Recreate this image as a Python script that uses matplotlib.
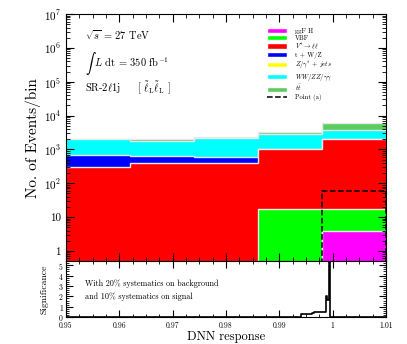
import matplotlib
matplotlib.use('Agg')
import matplotlib.pyplot as plt
import numpy as np
from matplotlib.ticker import FixedLocator, MultipleLocator, LogLocator, NullFormatter
from matplotlib.lines import Line2D
from matplotlib.patches import Patch

plt.rcParams['font.family'] = ['cmr10', 'DejaVu Serif']
plt.rcParams['mathtext.fontset'] = 'cm'
plt.rcParams['axes.formatter.use_mathtext'] = True

# Bin edges of the DNN response histogram
bin_edges = [0.95, 0.962, 0.974, 0.986, 0.998, 1.01]

# Per-process yields (stack order bottom -> top)
processes = ['ggF H', 'VBF', r'$V^{*} \to \ell\ell$', 't + W/Z',
             r'$Z/\gamma^{*}$ + $jets$', r'$WW/ZZ/\gamma\gamma$', r'$t\bar{t}$']
colors = ['#ff00ff', '#00ff00', '#ff0000', '#0000ff', '#ffff00', '#00ffff', '#5ccd5c']
ggf_h = [0, 0, 0, 0, 3.9]
vbf = [0, 0, 0, 17, 13]
vstar_ll = [295, 390, 400, 983, 1983]
t_wz = [405, 230, 180, 0, 0]
z_jets = [0, 0, 0, 0, 0]
ww_zz = [1300, 1120, 1550, 1800, 1700]
ttbar = [0, 260, 270, 400, 2200]

# Signal point (a)
point_a = [0, 0, 0, 0, 58]

# Significance curve (step, post)
sig_x = [0.95, 0.9940, 0.9962, 0.9966, 0.9976, 0.9984, 0.9987, 0.9989, 0.9993, 0.9995, 1.01]
sig_y = [0.0, 0.30, 0.40, 0.48, 0.45, 0.50, 2.05, 1.70, 5.3, 0.0, 0.0]

fig = plt.figure(figsize=(4.07, 3.44), dpi=100)
ax = fig.add_axes([0.162, 0.241, 0.786, 0.718])
rax = fig.add_axes([0.162, 0.078, 0.786, 0.163])

stack = [ggf_h, vbf, vstar_ll, t_wz, z_jets, ww_zz, ttbar]
cum = np.cumsum(np.array(stack, dtype=float), axis=0)
# draw from the top layer down so lower layers cover upper ones
for i in range(len(stack) - 1, -1, -1):
    if np.sum(stack[i]) == 0:
        continue
    ax.stairs(cum[i], bin_edges, baseline=1e-3, fill=True, color=colors[i])
    ax.stairs(cum[i], bin_edges, baseline=None, color='#e8e8e8', lw=1.0)

ax.stairs(point_a, bin_edges, baseline=1e-3, color='black', ls='--', lw=1.1)

ax.set_yscale('log')
ax.set_ylim(0.5, 1e7)
ax.set_xlim(0.95, 1.01)
ax.set_yticks([1, 10, 1e2, 1e3, 1e4, 1e5, 1e6, 1e7])
ax.set_yticklabels(['1', '10', r'$10^{2}$', r'$10^{3}$', r'$10^{4}$',
                    r'$10^{5}$', r'$10^{6}$', r'$10^{7}$'])
ax.yaxis.set_minor_locator(LogLocator(base=10, subs=np.arange(2, 10), numticks=20))
ax.yaxis.set_minor_formatter(NullFormatter())
ax.xaxis.set_major_locator(MultipleLocator(0.01))
ax.xaxis.set_minor_locator(MultipleLocator(0.0025))
ax.set_xticklabels([])
ax.tick_params(which='both', direction='in', top=True, right=True, labelsize=8)
ax.tick_params(which='major', length=6)
ax.tick_params(which='minor', length=3)
ax.set_ylabel('No. of Events/bin', fontsize=11, labelpad=2)

ax.text(0.06, 0.915, r'$\sqrt{s}$ = 27 TeV', transform=ax.transAxes, fontsize=7.5, va='center')
ax.text(0.06, 0.80, r'$\int$ $L$ dt = 350 fb$^{-1}$', transform=ax.transAxes, fontsize=7.5, va='center')
ax.text(0.06, 0.70, r'SR-2$\ell$1j     [ $\tilde{\ell}_{\rm L}\tilde{\ell}_{\rm L}$ ]',
        transform=ax.transAxes, fontsize=7.5, va='center')

handles = [Patch(facecolor=c, edgecolor='white') for c in colors]
handles.append(Line2D([0], [0], color='black', ls='--', lw=1.1))
labels = processes + ['Point (a)']
ax.legend(handles, labels, loc='upper left', bbox_to_anchor=(0.62, 0.955), fontsize=4.8,
          frameon=False, handlelength=3.0, handleheight=0.8, labelspacing=0.12,
          handletextpad=1.2, borderaxespad=0)

rax.step(sig_x, sig_y, where='post', color='black', lw=1.2)
rax.set_xlim(0.95, 1.01)
rax.set_ylim(0, 5.4)
rax.xaxis.set_major_locator(FixedLocator([0.95, 0.96, 0.97, 0.98, 0.99, 1.0, 1.01]))
rax.set_xticklabels(['0.95', '0.96', '0.97', '0.98', '0.99', '1', '1.01'])
rax.xaxis.set_minor_locator(MultipleLocator(0.0025))
rax.yaxis.set_major_locator(MultipleLocator(1))
rax.yaxis.set_minor_locator(MultipleLocator(0.2))
rax.tick_params(which='both', direction='in', top=True, right=True, labelsize=5.5)
rax.tick_params(axis='x', pad=3.5)
rax.tick_params(axis='y', pad=1.5)
rax.tick_params(which='major', length=5)
rax.tick_params(which='minor', length=2.5)
rax.set_ylabel('Significance', fontsize=7, labelpad=7)
rax.set_xlabel('DNN response', fontsize=9, labelpad=0)
rax.text(0.06, 0.60, 'With 20% systematics on background', transform=rax.transAxes,
         fontsize=5.8, va='center')
rax.text(0.06, 0.37, 'and 10% systematics on signal', transform=rax.transAxes,
         fontsize=5.8, va='center')

# lift the "0" label so it clears the "0.95" label below
fig.canvas.draw()
rax.get_yticklabels()[0].set_verticalalignment('bottom')

fig.savefig('out.png', dpi=100)
